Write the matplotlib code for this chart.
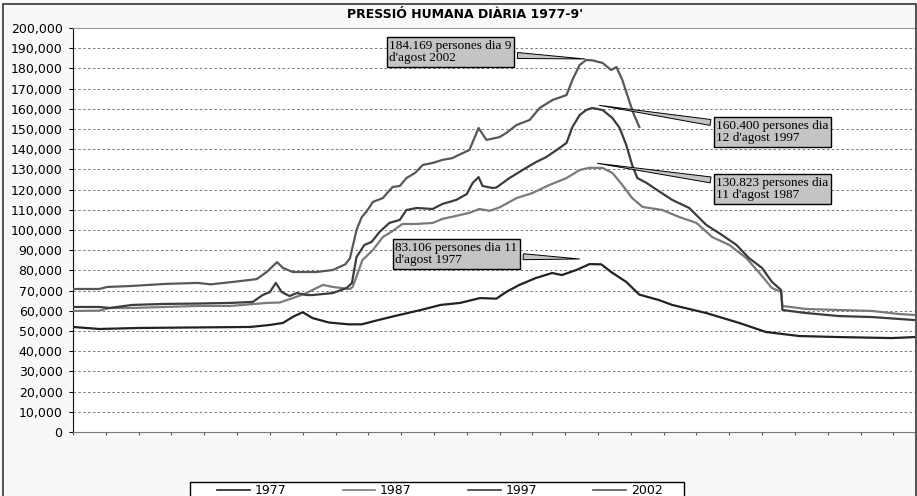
import matplotlib
matplotlib.use('Agg')
import matplotlib.pyplot as plt
from matplotlib.patches import Rectangle
from matplotlib.ticker import FuncFormatter

# dies des del 24 de maig, persones
dies_1977 = [0, 4, 10, 20, 27, 30, 32, 33.5, 35, 36.5, 39, 42, 44, 46, 49, 53, 56, 59, 62,
             64.5, 66, 68, 70.5, 73, 74.5, 76.7, 78.7, 80.5, 82, 84.3, 86.3, 89.3, 91.3,
             96.5, 101.5, 105.6, 110.7, 116.7, 124.8, 128.3]
pers_1977 = [52000, 51000, 51500, 51800, 52000, 53000, 54000, 57000, 59300, 56400, 54200,
             53300, 53300, 55000, 57400, 60400, 62900, 63900, 66300, 66000, 69300, 72800,
             76200, 78700, 77700, 80200, 83106, 83000, 79200, 74300, 68000, 65300, 62900,
             58900, 54000, 49500, 47500, 47000, 46500, 47000]

dies_1987 = [0, 4, 5.6, 9, 14, 19, 24, 29.5, 31.5, 33.5, 35.6, 37.1, 38.1, 39.6, 42.2, 42.6,
             43.4, 44.1, 45.7, 47.2, 48.7, 50.2, 52.4, 54.8, 56.3, 58.4, 60.4, 61.9, 63.5,
             65, 67.6, 70, 72.6, 75.2, 77.2, 78.7, 80.7, 82.2, 83.7, 85.2, 86.8, 89.8, 92.4,
             95, 97.4, 100, 102.6, 104.6, 106.5, 107.9, 108.1, 111.7, 121.8, 125.9, 128.3]
pers_1987 = [59900, 60100, 61400, 61400, 61900, 62400, 62400, 63900, 64100, 66300, 68800,
             71300, 72800, 71800, 70800, 71800, 78700, 85100, 90100, 96500, 99500, 103000,
             103000, 103500, 105500, 107000, 108500, 110400, 109500, 111200, 115800, 118300,
             122300, 125700, 129700, 130823, 130700, 128200, 122300, 115800, 111400, 109900,
             106400, 103500, 96500, 92600, 86100, 78700, 71300, 69300, 62400, 60900, 59900,
             58400, 57900]

dies_1997 = [0, 4, 5.6, 9, 14, 19, 24, 27.4, 28.9, 30, 30.9, 31.8, 33, 34.1, 35.6, 36.5,
             39.6, 41.7, 42.5, 43.2, 44.4, 45.5, 46.7, 48.2, 49.8, 50.8, 52.4, 54.8, 56.3,
             58.4, 60, 60.9, 61.8, 62.4, 63.9, 64.5, 66.5, 68.5, 70.6, 72.1, 73.7, 75.2, 76.1,
             77.2, 78.2, 79.1, 80.7, 82.2, 83.3, 84.3, 85.2, 86, 87.4, 88.9, 91.3, 93.9, 96.5,
             98.9, 101.1, 103, 105, 106.5, 107.9, 108.1, 111.7, 116.7, 121.8, 128.3]
pers_1997 = [61900, 61900, 61400, 62900, 63400, 63600, 63900, 64400, 67800, 69300, 73800,
             69300, 67300, 68800, 67800, 67800, 68800, 71300, 73800, 86600, 92600, 94100,
             99000, 103500, 105000, 109900, 110900, 110400, 112900, 114900, 117800, 123300,
             126200, 121800, 120800, 121000, 125700, 129700, 133700, 136100, 139600, 143100,
             151000, 156900, 159400, 160400, 159400, 155400, 150500, 142100, 132200, 125700,
             123300, 120000, 114900, 110900, 102500, 97500, 92600, 86100, 81200, 74300,
             70300, 60400, 58900, 57400, 56900, 55400]

dies_2002 = [0, 4, 5.2, 9, 14, 19, 21, 24.4, 28, 29.5, 31.1, 32, 33.5, 37.1, 39.6, 41.5,
             42.2, 43.2, 44, 44.7, 45.7, 47.2, 48.7, 49.8, 50.8, 52.1, 53.3, 54.8, 56.3, 57.8,
             59.4, 60.4, 61.8, 63, 65, 66, 67.6, 69.6, 71.1, 73.1, 75.2, 76.1, 77.2, 78.2,
             79.1, 80.7, 82, 82.8, 83.7, 84.8, 85.5, 86.3]
pers_2002 = [70800, 70800, 71800, 72300, 73300, 73800, 73100, 74300, 75700, 79200, 84100,
             81200, 79200, 79200, 80200, 83000, 86000, 100000, 106400, 109000, 113900, 115800,
             121300, 121800, 125700, 128200, 132200, 133200, 134700, 135600, 138100, 139600,
             150500, 144600, 146000, 148000, 152000, 154500, 160400, 164400, 166800, 174300,
             181700, 184169, 184000, 182700, 179200, 180700, 174300, 163400, 156900, 151000]

anys = ['1977', '1987', '1997', '2002']
colors = ['#222222', '#7a7a7a', '#3c3c3c', '#575757']

textos = ["184.169 persones dia 9\nd'agost 2002",
          "160.400 persones dia\n12 d'agost 1997",
          "130.823 persones dia\n11 d'agost 1987",
          "83.106 persones dia 11\nd'agost 1977"]
punts = [(78.4, 184600), (79.8, 161900), (79.5, 133200), (77.6, 85600)]
caixes = [(57.5, 188100), (106.6, 148500), (106.6, 120300), (58.4, 88100)]

fig = plt.figure(figsize=(9.17, 4.96), dpi=100, facecolor='#f8f8f8')
ax = fig.add_axes([73/917, 64/496, (915-73)/917, (432-28)/496])
ax.set_facecolor('white')

series = [(dies_1977, pers_1977), (dies_1987, pers_1987), (dies_1997, pers_1997), (dies_2002, pers_2002)]
for (d, p), nom, c in zip(series, anys, colors):
    ax.plot(d, p, color=c, lw=1.6, label=nom, zorder=3)

ax.set_xlim(0, 128.3)
ax.set_ylim(0, 200000)
ax.set_yticks(range(0, 200001, 10000))
ax.yaxis.set_major_formatter(FuncFormatter(lambda v, p: f'{int(v):,}'))
ax.set_xticks(range(0, 129, 5))
ax.set_xticklabels([])
ax.tick_params(axis='y', length=3, pad=4.5, labelsize=9, direction='out')
ax.tick_params(axis='x', length=2.5, direction='out', color='#555')
ax.yaxis.grid(True, linestyle=(0, (2.5, 2.5)), color='#777', lw=0.7)
ax.set_axisbelow(True)
ax.spines['left'].set_color('#111')
ax.spines['bottom'].set_color('#777')
ax.spines['top'].set_color('#999')
ax.spines['right'].set_visible(False)

for t, xy, xyt in zip(textos, punts, caixes):
    ax.annotate(t, xy=xy, xytext=xyt, ha='center', va='center', multialignment='left',
                fontsize=9.5, family='Liberation Serif', linespacing=1.0, zorder=5,
                bbox=dict(boxstyle='square,pad=0.2', fc='#c4c4c4', ec='black', lw=1),
                arrowprops=dict(arrowstyle='wedge,tail_width=0.45', fc='#c4c4c4', ec='black', lw=0.7))

fig.text(465/917, 1 - 14/496, "PRESSIÓ HUMANA DIÀRIA 1977-9'", ha='center', va='center',
         fontsize=9, fontweight='bold')

# marc del grafic i de la llegenda
fig.patches.append(Rectangle((3/917, -0.01), 913/917, 1 - 4/496 + 0.01, transform=fig.transFigure,
                             fill=False, ec='#444', lw=1.3, zorder=10))
fig.patches.append(Rectangle((190/917, -0.02), 494/917, (496-482)/496 + 0.02, transform=fig.transFigure,
                             fc='white', ec='black', lw=1, zorder=1))

handles = [plt.Line2D([], [], color=c, lw=1.2) for c in colors]
fig.legend(handles, anys, loc='upper left', bbox_to_anchor=(217/917, 1 - 484/496), ncol=4,
           frameon=False, borderpad=0, borderaxespad=0, handlelength=2.6, handletextpad=0.4,
           columnspacing=4.5, fontsize=9)

fig.savefig('out.png', dpi=100, facecolor=fig.get_facecolor())
